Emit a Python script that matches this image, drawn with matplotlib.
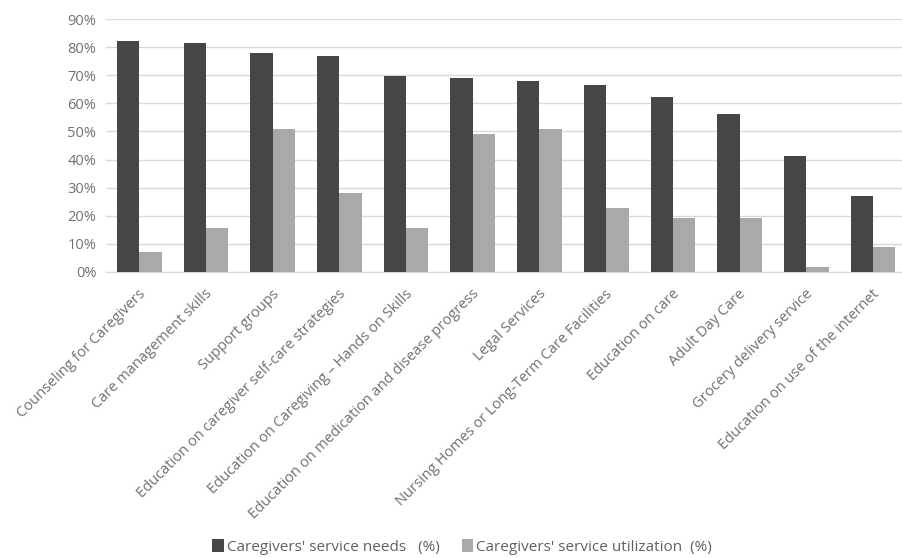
import matplotlib
matplotlib.use("Agg")
import matplotlib.pyplot as plt
import matplotlib.transforms as mtransforms
import numpy as np

categories = [
    "Counseling for Caregivers",
    "Care management skills",
    "Support groups",
    "Education on caregiver self-care strategies",
    "Education on Caregiving \u2013 Hands on Skills",
    "Education on medication and disease progress",
    "Legal Services",
    "Nursing Homes or Long-Term Care Facilities",
    "Education on care",
    "Adult Day Care",
    "Grocery delivery service",
    "Education on use of the internet",
]
needs = [82.2, 81.4, 78.0, 76.8, 69.8, 69.1, 68.0, 66.7, 62.3, 56.3, 41.4, 26.9]
utilization = [6.9, 15.7, 50.8, 28.1, 15.7, 49.2, 50.8, 22.7, 19.3, 19.3, 1.8, 8.7]
yticks = [0, 10, 20, 30, 40, 50, 60, 70, 80, 90]
series_names = ["Caregivers' service needs   (%)", "Caregivers' service utilization  (%)"]

plt.rcParams['font.family'] = ['Open Sans', 'DejaVu Sans']

W, H = 903, 557
fig = plt.figure(figsize=(W / 100, H / 100), dpi=100)
left, right = 106 / W, 903 / W
bottom, top = 1 - 271.7 / H, 1 - 19.3 / H
ax = fig.add_axes([left, bottom, right - left, top - bottom])

x = np.arange(len(categories))
bw = 0.335
dark = "#464648"
light = "#a9a8ab"
b1 = ax.bar(x - bw / 2, needs, width=bw, color=dark, zorder=3, label=series_names[0])
b2 = ax.bar(x + bw / 2, utilization, width=bw, color=light, zorder=3, label=series_names[1])

ax.set_ylim(0, 90)
ax.set_xlim(-0.5, 11.5 - 3.3 / 66.7)
ax.set_yticks(yticks)
ax.set_yticklabels([f"{v}%" for v in yticks], fontsize=10.5, color="#707070")
ax.yaxis.grid(True, color="#d9d9d9", linewidth=1.0, zorder=0)
ax.set_axisbelow(True)
for s in ["top", "right", "left"]:
    ax.spines[s].set_visible(False)
ax.spines["bottom"].set_color("#d9d9d9")
ax.tick_params(axis="y", length=0, pad=7)
ax.tick_params(axis="x", length=0, pad=11)
ax.set_xticks(x)
ax.set_xticklabels(categories, rotation=45, ha="right", va="center", rotation_mode="anchor",
                   fontsize=10.5, color="#707070")
offset = mtransforms.ScaledTranslation(0.04, -0.05, fig.dpi_scale_trans)
for lbl in ax.get_xticklabels():
    lbl.set_transform(lbl.get_transform() + offset)

fig.legend(handles=[b1, b2], loc="center", bbox_to_anchor=(462 / W, 1 - 547 / H), ncol=2,
           frameon=False, fontsize=11, handlelength=0.75, handleheight=0.95,
           handletextpad=0.2, columnspacing=1.45, labelcolor="#606060")

fig.savefig("out.png", dpi=100)
